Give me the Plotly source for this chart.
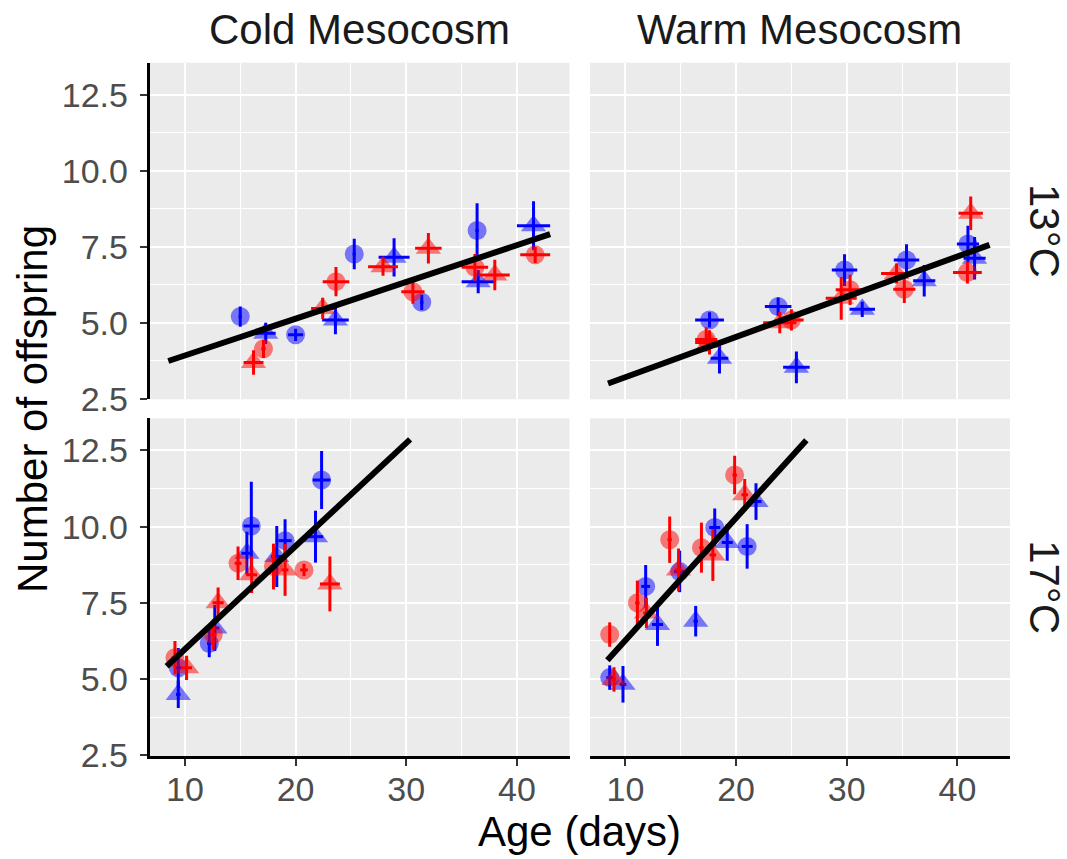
import plotly.graph_objects as go

# ---------------- data ----------------
# group codes: pop "A" (blue) / "B" (red); line "1" (circle) / "2" (triangle)
panels = ["Cold Mesocosm", "Warm Mesocosm"]
temps = ["13°C", "17°C"]

# Top-left: Cold Mesocosm, 13°C
tl_age  = [15.0, 20.0, 25.3, 31.4, 36.4,   17.3, 23.6, 28.9, 36.5, 41.5,
           17.1, 23.65, 30.6, 36.2, 41.65, 16.2, 22.45, 27.9, 32.0, 38.0]
tl_off  = [5.2, 4.6, 7.26, 5.67, 8.03,     4.65, 5.09, 7.15, 6.35, 8.19,
           4.14, 6.35, 6.02, 6.82, 7.23,   3.69, 5.47, 6.84, 7.45, 6.57]
tl_yerr = [0.33, 0.2, 0.5, 0.25, 0.9,      0.35, 0.47, 0.63, 0.38, 0.8,
           0.3, 0.48, 0.4, 0.44, 0.27,     0.4, 0.35, 0.3, 0.5, 0.5]
tl_xerr = [0.15, 0.68, 0.15, 0.15, 0.15,   0.9, 1.2, 1.4, 1.5, 1.5,
           0.2, 1.2, 1.05, 1.2, 1.35,      0.9, 1.05, 1.35, 1.2, 1.35]

# Top-right: Warm Mesocosm, 13°C
tr_age  = [17.6, 23.8, 29.8, 35.4, 40.95,  18.5, 25.45, 31.4, 37.0, 41.55,
           17.3, 25.0, 30.3, 35.2, 40.9,   17.6, 23.95, 29.5, 34.5, 41.2]
tr_off  = [5.09, 5.53, 6.73, 7.06, 7.59,   3.83, 3.53, 5.44, 6.38, 7.12,
           4.45, 5.09, 6.08, 6.1, 6.65,    4.35, 5.0, 5.8, 6.62, 8.6]
tr_yerr = [0.25, 0.3, 0.52, 0.52, 0.6,     0.5, 0.52, 0.25, 0.52, 0.7,
           0.4, 0.35, 0.5, 0.45, 0.36,     0.4, 0.35, 0.7, 0.33, 0.55]
tr_xerr = [1.3, 1.2, 1.15, 1.15, 1.0,      0.8, 1.2, 1.15, 1.0, 1.0,
           1.0, 1.1, 1.3, 1.0, 1.3,        1.3, 1.5, 1.4, 1.4, 1.1]

# Bottom-left: Cold Mesocosm, 17°C
bl_age  = [9.4, 12.2, 16.0, 19.05, 22.35,  9.4, 12.7, 15.6, 18.3, 21.8,
           9.1, 12.56, 14.8, 18.0, 20.76,  10.15, 13.0, 16.03, 19.05, 23.1]
bl_off  = [5.37, 6.17, 10.02, 9.54, 11.53, 4.5, 6.68, 9.13, 9.02, 9.67,
           5.7, 6.46, 8.8, 8.69, 8.58,     5.37, 7.5, 8.42, 8.58, 8.12]
bl_yerr = [0.65, 0.45, 1.45, 0.7, 0.95,    0.45, 0.75, 0.7, 1.0, 0.85,
           0.55, 0.5, 0.55, 0.75, 0.2,     0.4, 0.5, 0.6, 0.85, 0.9]
bl_xerr = [0.3, 0.2, 0.7, 0.6, 0.8,        0.2, 0.4, 0.5, 0.5, 0.7,
           0.3, 0.3, 0.3, 0.3, 0.35,       0.5, 0.5, 0.5, 0.3, 0.9]

# Bottom-right: Warm Mesocosm, 17°C
br_age  = [8.58, 11.83, 14.9, 18.07, 21.0, 9.78, 12.9, 16.35, 19.2, 21.8,
           8.58, 11.08, 14.0, 16.87, 19.87, 8.97, 11.9, 14.8, 17.9, 20.78]
br_off  = [5.05, 8.04, 8.53, 9.97, 9.35,   4.83, 6.79, 6.9, 9.48, 10.82,
           6.46, 7.5, 9.57, 9.31, 11.69,   4.99, 7.17, 8.58, 9.07, 11.04]
br_yerr = [0.4, 0.7, 0.68, 0.62, 0.73,     0.6, 0.7, 0.5, 0.6, 0.6,
           0.4, 0.73, 0.76, 0.82, 0.63,    0.4, 0.5, 0.7, 0.85, 0.52]
br_xerr = [0.3, 0.4, 0.5, 0.5, 0.5,        0.3, 0.5, 0.2, 0.5, 0.5,
           0.1, 0.2, 0.2, 0.2, 0.2,        0.2, 0.3, 0.3, 0.3, 0.3]

pop_group  = ["A"] * 10 + ["B"] * 10
line_group = (["1"] * 5 + ["2"] * 5) * 2

# fitted regression lines (end points)
tl_fit_x, tl_fit_y = [8.5, 43.0], [3.74, 7.91]
tr_fit_x, tr_fit_y = [8.43, 42.9], [3.0, 7.56]
bl_fit_x, bl_fit_y = [8.35, 30.35], [5.42, 12.86]
br_fit_x, br_fit_y = [8.37, 26.35], [5.62, 12.83]

x_ticks = [10, 20, 30, 40]
y_ticks = [2.5, 5.0, 7.5, 10.0, 12.5]
y_ticktext = ["2.5", "5.0", "7.5", "10.0", "12.5"]

# ---------------- styling ----------------
W, H = 1067, 859
FONT = "Liberation Sans, Arial, Helvetica, sans-serif"
pop_fill = {"A": "rgba(0,0,255,0.5)", "B": "rgba(255,0,0,0.5)"}
pop_line = {"A": "#0000FF", "B": "#FF0000"}
shape = {"1": "circle", "2": "triangle-up"}
msize = {"1": 19, "2": 22}

xdom = {0: [149.5 / W, 569.5 / W], 1: [590 / W, 1010 / W]}
ydom = {0: [1 - 399.3 / H, 1 - 62.7 / H], 1: [1 - 756 / H, 1 - 418.3 / H]}

panel_data = [
    (tl_age, tl_off, tl_yerr, tl_xerr, tl_fit_x, tl_fit_y),
    (tr_age, tr_off, tr_yerr, tr_xerr, tr_fit_x, tr_fit_y),
    (bl_age, bl_off, bl_yerr, bl_xerr, bl_fit_x, bl_fit_y),
    (br_age, br_off, br_yerr, br_xerr, br_fit_x, br_fit_y),
]

fig = go.Figure()

for p, (age, off, yerr, xerr, fx, fy) in enumerate(panel_data):
    xa = "x" if p == 0 else f"x{p+1}"
    ya = "y" if p == 0 else f"y{p+1}"
    for pop in ["A", "B"]:
        for ln in ["1", "2"]:
            idx = [i for i in range(len(age)) if pop_group[i] == pop and line_group[i] == ln]
            gx = [age[i] for i in idx]
            gy = [off[i] for i in idx]
            gye = [yerr[i] for i in idx]
            gxe = [xerr[i] for i in idx]
            # semi-transparent markers
            fig.add_trace(go.Scatter(
                x=gx, y=gy, mode="markers", xaxis=xa, yaxis=ya, showlegend=False,
                marker=dict(symbol=shape[ln], size=msize[ln], color=pop_fill[pop],
                            line=dict(width=0)),
                hoverinfo="skip"))
            # error bars on top
            fig.add_trace(go.Scatter(
                x=gx, y=gy, mode="markers", xaxis=xa, yaxis=ya, showlegend=False,
                marker=dict(size=1, opacity=0, color=pop_line[pop]),
                error_y=dict(type="data", array=gye, visible=True, color=pop_line[pop],
                             thickness=3, width=0),
                error_x=dict(type="data", array=gxe, visible=True, color=pop_line[pop],
                             thickness=3, width=0),
                hoverinfo="skip"))
    fig.add_trace(go.Scatter(
        x=fx, y=fy, mode="lines", xaxis=xa, yaxis=ya, showlegend=False,
        line=dict(color="black", width=6), hoverinfo="skip"))

layout = dict(
    width=W, height=H, autosize=False,
    margin=dict(l=0, r=0, t=0, b=0, pad=0, autoexpand=False),
    paper_bgcolor="white", plot_bgcolor="#EBEBEB",
    font=dict(family=FONT, color="#4D4D4D"),
    showlegend=False,
)

for p in range(4):
    row, col = divmod(p, 2)
    xkey = "xaxis" if p == 0 else f"xaxis{p+1}"
    ykey = "yaxis" if p == 0 else f"yaxis{p+1}"
    xa_anchor = "y" if p == 0 else f"y{p+1}"
    ya_anchor = "x" if p == 0 else f"x{p+1}"
    bottom = row == 1
    left = col == 0
    layout[xkey] = dict(
        domain=xdom[col], anchor=xa_anchor, range=[6.8, 44.75],
        tickvals=x_ticks, showticklabels=bottom, automargin=False,
        ticks="outside" if bottom else "", ticklen=7, tickwidth=2, tickcolor="#333333",
        ticklabelstandoff=-6,
        tickfont=dict(size=34, color="#4D4D4D", family=FONT),
        showline=bottom, linecolor="black", linewidth=2.5,
        showgrid=True, gridcolor="white", gridwidth=2.2, zeroline=False,
        minor=dict(tickvals=[5, 15, 25, 35, 45], showgrid=True, gridcolor="white",
                   gridwidth=1.1, ticks=""),
        fixedrange=True,
    )
    layout[ykey] = dict(
        domain=ydom[row], anchor=ya_anchor, range=[2.48, 13.55],
        tickvals=y_ticks, ticktext=y_ticktext, showticklabels=left, automargin=False,
        ticks="outside" if left else "", ticklen=7, tickwidth=2, tickcolor="#333333",
        ticklabelstandoff=5,
        tickfont=dict(size=34, color="#4D4D4D", family=FONT),
        showline=left, linecolor="black", linewidth=2.5,
        showgrid=True, gridcolor="white", gridwidth=2.2, zeroline=False,
        minor=dict(tickvals=[3.75, 6.25, 8.75, 11.25], showgrid=True, gridcolor="white",
                   gridwidth=1.1, ticks=""),
        fixedrange=True,
    )

annotations = []
for col, name in enumerate(panels):
    annotations.append(dict(
        text=name, x=sum(xdom[col]) / 2, y=1 - 29 / H, xref="paper", yref="paper",
        xanchor="center", yanchor="middle", showarrow=False,
        font=dict(size=42, color="#1A1A1A", family=FONT)))
for row, t in enumerate(temps):
    annotations.append(dict(
        text=t, x=1045 / W, y=sum(ydom[row]) / 2, xref="paper", yref="paper",
        xanchor="center", yanchor="middle", showarrow=False, textangle=90,
        font=dict(size=42, color="#1A1A1A", family=FONT)))
annotations.append(dict(
    text="Number of offspring", x=32 / W, y=1 - 409 / H, xref="paper", yref="paper",
    xanchor="center", yanchor="middle", showarrow=False, textangle=-90,
    font=dict(size=42, color="black", family=FONT)))
annotations.append(dict(
    text="Age (days)", x=579 / W, y=1 - 831 / H, xref="paper", yref="paper",
    xanchor="center", yanchor="middle", showarrow=False,
    font=dict(size=42, color="black", family=FONT)))
layout["annotations"] = annotations

fig.update_layout(**layout)
fig.write_html(
    "out.html",
    config={"displayModeBar": False},
    post_script="document.body.style.margin='0px';document.body.style.overflow='hidden';",
)
